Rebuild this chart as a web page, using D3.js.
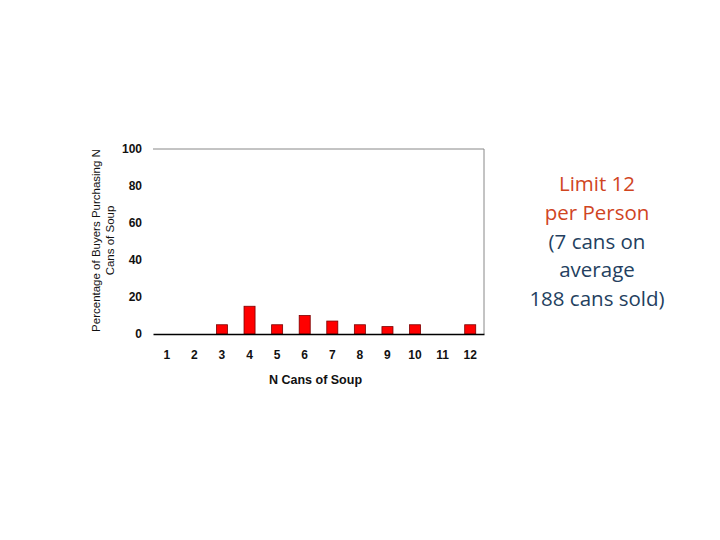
<!DOCTYPE html>
<html>
<head>
<meta charset="utf-8">
<script src="https://cdn.jsdelivr.net/npm/d3@7"></script>
<style>
  body { margin: 0; background: #fff; }
  svg { display: block; }
</style>
</head>
<body>
<svg id="chart" width="720" height="540"></svg>
<script>
var categories = ['1', '2', '3', '4', '5', '6', '7', '8', '9', '10', '11', '12'];
var percents = [0, 0, 5, 15, 5, 10, 7, 5, 4, 5, 0, 5];
var yTicks = [0, 20, 40, 60, 80, 100];
var noteLines = ['Limit 12', 'per Person', '(7 cans on', 'average', '188 cans sold)'];
var noteColors = ['#d0451f', '#d0451f', '#243f60', '#243f60', '#243f60'];

var svg = d3.select('#chart');
var margin = { left: 153, right: 236, top: 149, bottom: 206 };
var width = 720 - margin.left - margin.right,
    height = 540 - margin.top - margin.bottom;

var g = svg.append('g')
    .attr('transform', 'translate(' + margin.left + ',' + margin.top + ')');

var x = d3.scaleBand()
    .domain(categories)
    .range([0, width])
    .paddingInner(0.6)
    .paddingOuter(0.3);

var y = d3.scaleLinear()
    .domain([0, 100])
    .range([height, 0]);

// plot frame: top and right sides grey
g.append('path')
    .attr('d', 'M0,0H' + width + 'V' + height)
    .attr('fill', 'none')
    .attr('stroke', '#888')
    .attr('stroke-width', 1);

g.selectAll('.bar')
    .data(percents)
    .enter().append('rect')
    .attr('class', 'bar')
    .attr('x', function(d, i) { return x(categories[i]); })
    .attr('y', function(d) { return y(d); })
    .attr('width', x.bandwidth())
    .attr('height', function(d) { return height - y(d); })
    .attr('fill', '#ff0000')
    .attr('stroke', function(d) { return d > 0 ? '#7a0000' : 'none'; })
    .attr('stroke-width', 0.8);

// y axis labels
var yAxis = g.append('g')
    .call(d3.axisLeft(y).tickValues(yTicks).tickSize(0).tickPadding(11));
yAxis.select('.domain').remove();
yAxis.selectAll('text')
    .attr('font-family', 'Liberation Sans, Arial, sans-serif')
    .attr('font-size', 12)
    .attr('font-weight', 'bold')
    .attr('fill', '#111');

// x axis
var xAxis = g.append('g')
    .attr('transform', 'translate(0,' + height + ')')
    .call(d3.axisBottom(x).tickSize(0).tickPadding(16));
xAxis.select('.domain')
    .attr('stroke', '#000')
    .attr('stroke-width', 1.5);
xAxis.selectAll('text')
    .attr('font-family', 'Liberation Sans, Arial, sans-serif')
    .attr('font-size', 12)
    .attr('font-weight', 'bold')
    .attr('fill', '#111');

// axis titles
g.append('text')
    .attr('x', width / 2 - 3)
    .attr('y', height + 50)
    .attr('text-anchor', 'middle')
    .attr('font-family', 'Liberation Sans, Arial, sans-serif')
    .attr('font-size', 12.5)
    .attr('font-weight', 'bold')
    .attr('fill', '#111')
    .text('N Cans of Soup');

var yTitle = g.append('text')
    .attr('transform', 'translate(-53,' + (height / 2 - 1) + ') rotate(-90)')
    .attr('text-anchor', 'middle')
    .attr('font-family', 'Liberation Sans, Arial, sans-serif')
    .attr('font-size', 11.5)
    .attr('fill', '#111');
yTitle.append('tspan').attr('x', 0).attr('dy', 0).text('Percentage of Buyers Purchasing N');
yTitle.append('tspan').attr('x', 0).attr('dy', 14).text('Cans of Soup');

// note on the right
svg.append('g')
    .selectAll('text')
    .data(noteLines)
    .enter().append('text')
    .attr('x', 597)
    .attr('y', function(d, i) { return 191 + i * 28.8; })
    .attr('text-anchor', 'middle')
    .attr('font-family', 'Open Sans, Liberation Sans, sans-serif')
    .attr('font-size', 20.5)
    .attr('fill', function(d, i) { return noteColors[i]; })
    .text(function(d) { return d; });
</script>
</body>
</html>
